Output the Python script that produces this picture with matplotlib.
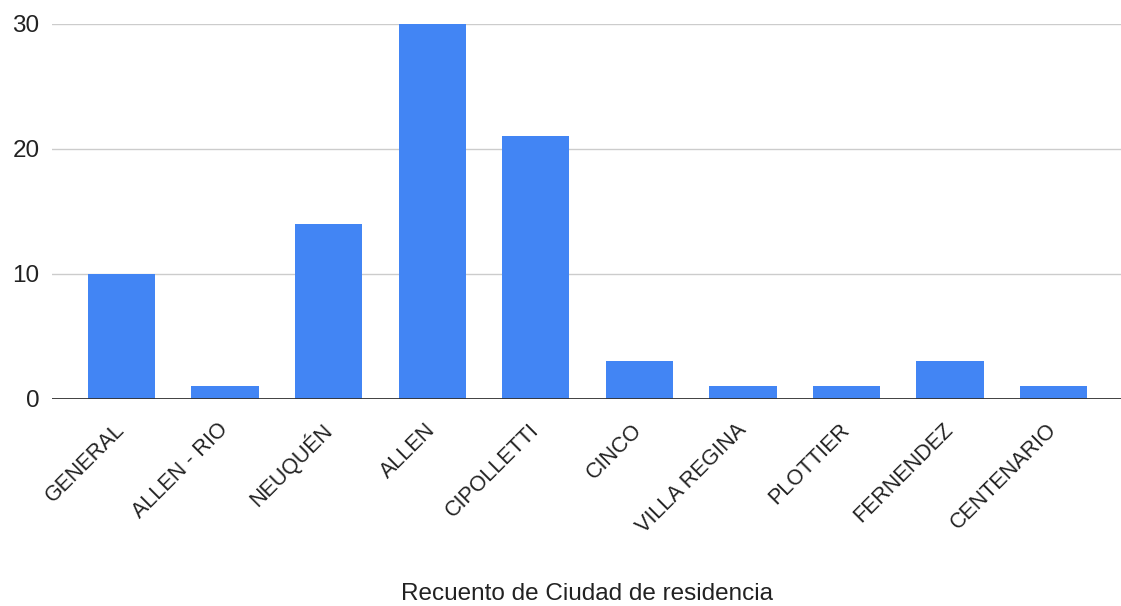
import matplotlib.pyplot as plt
import numpy as np

ciudades = ['GENERAL', 'ALLEN - RIO', 'NEUQUÉN', 'ALLEN', 'CIPOLLETTI',
            'CINCO', 'VILLA REGINA', 'PLOTTIER', 'FERNENDEZ', 'CENTENARIO']
recuento = [10, 1, 14, 30, 21, 3, 1, 1, 3, 1]
yticks = [0, 10, 20, 30]

plt.rcParams['font.family'] = ['Liberation Sans', 'DejaVu Sans']

fig = plt.figure(figsize=(11.21, 6.06), dpi=100)
ax = fig.add_axes([0.0464, 0.3416, 0.9536, 0.6188])

x = np.arange(len(ciudades))
ax.bar(x, recuento, width=0.65, color='#4285F4', zorder=3)

ax.set_ylim(0, 30)
ax.set_xlim(-0.67, len(ciudades) - 1 + 0.65)
ax.set_yticks(yticks)
ax.yaxis.grid(True, color='#cccccc', linewidth=1, zorder=0)
ax.axhline(0, color='#333333', linewidth=1.3, zorder=4)

for side in ['top', 'right', 'left', 'bottom']:
    ax.spines[side].set_visible(False)

ax.tick_params(axis='both', length=0, colors='#222222')
ax.tick_params(axis='y', pad=9, labelsize=17.5)
ax.set_xticks(x)
ax.set_xticklabels(ciudades, rotation=45, ha='right', va='center',
                   rotation_mode='anchor', fontsize=15.5)
ax.tick_params(axis='x', pad=20)

ax.set_xlabel('Recuento de Ciudad de residencia', fontsize=17.5, color='#222222', labelpad=33)

fig.savefig('out.png', dpi=100)
